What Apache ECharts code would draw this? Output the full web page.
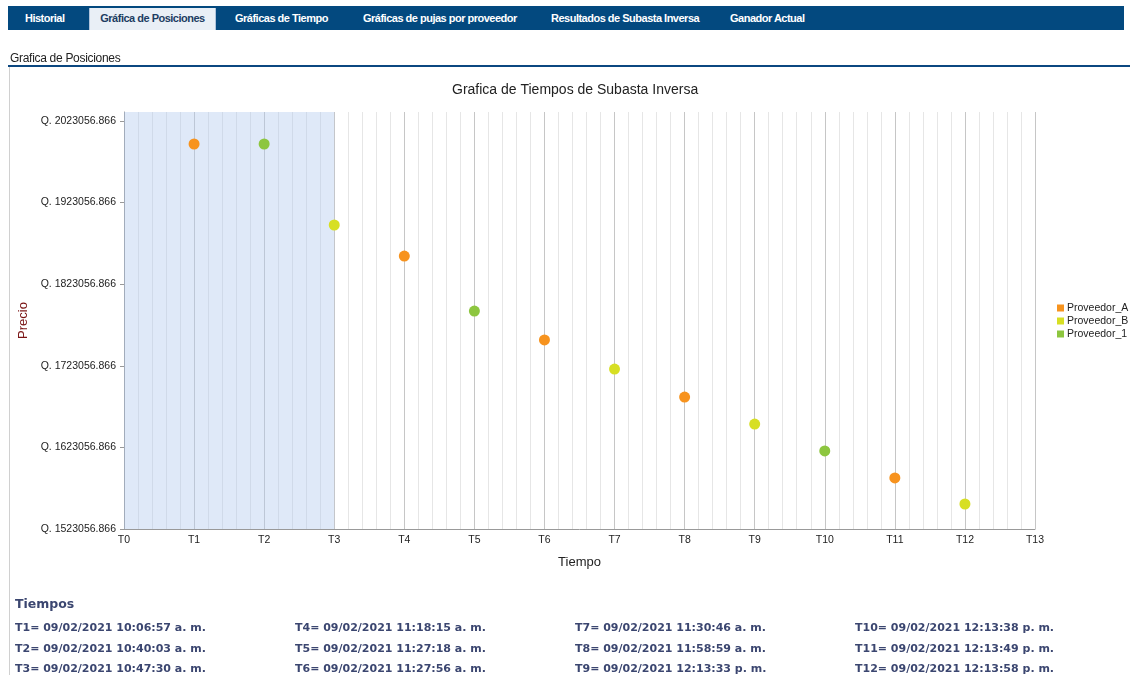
<!DOCTYPE html>
<html>
<head>
<meta charset="utf-8">
<title>Grafica de Posiciones</title>
<style type="text/css">
  body { margin:0; width:1130px; height:675px; background:#fff; position:relative; overflow:hidden; font-family:"Liberation Sans", Arial, sans-serif; }
  #tabs { position:absolute; left:8px; top:6px; width:1116px; height:24px; background:#03497f; }
  #tabs span { position:absolute; top:0; height:24px; line-height:24px; color:#fff; font-size:11px; font-weight:bold; letter-spacing:-0.5px; }
  #tabs span.act { background:#e9eff6; color:#1d3d62; border-left:1px solid #b0c4dc; border-right:1px solid #b0c4dc; top:2px; height:22px; line-height:21px; }
  #subtitulo { position:absolute; left:10px; top:51px; font-size:12px; color:#222; letter-spacing:-0.3px; }
  #linea { position:absolute; left:8px; top:65px; width:1122px; height:2px; background:#0b4780; }
  #borde { position:absolute; left:9px; top:67px; width:1px; height:608px; background:#d0d0d0; }
  #chart { position:absolute; left:0; top:0; width:1130px; height:675px; }
  #tiempos { position:absolute; left:15px; top:596px; font-family:"DejaVu Sans", Verdana, sans-serif; font-weight:bold; color:#3b4670; }
  #tiempos .h { font-size:12.5px; margin-bottom:5px; }
  .col { position:absolute; top:22px; width:300px; font-size:11px; line-height:20.5px; white-space:nowrap; }
</style>
<script src="https://cdn.jsdelivr.net/npm/echarts@6/dist/echarts.min.js"></script>
</head>
<body>
<div id="chart"></div>
<div id="tabs">
  <span style="left:17px">Historial</span>
  <span class="act" style="left:81px;width:125px;text-align:center">Gráfica de Posiciones</span>
  <span style="left:227px">Gráficas de Tiempo</span>
  <span style="left:355px">Gráficas de pujas por proveedor</span>
  <span style="left:543px">Resultados de Subasta Inversa</span>
  <span style="left:722px">Ganador Actual</span>
</div>
<div id="subtitulo">Grafica de Posiciones</div>
<div id="linea"></div>
<div id="borde"></div>
<div id="tiempos">
  <div class="h">Tiempos</div>
  <div class="col" id="c0" style="left:0px"></div>
  <div class="col" id="c1" style="left:280px"></div>
  <div class="col" id="c2" style="left:560px"></div>
  <div class="col" id="c3" style="left:840px"></div>
</div>
<script type="text/javascript">
// posiciones (T) y precios de cada proveedor
var tiemposA = [1, 4, 6, 8, 11];
var preciosA = [1994900, 1857600, 1754700, 1684800, 1585600];
var tiemposB = [3, 7, 9, 12];
var preciosB = [1895600, 1719100, 1651700, 1553700];
var tiempos1 = [2, 5, 10];
var precios1 = [1994900, 1790200, 1618700];

// fechas de cada tiempo
var fechas = [
  "09/02/2021 10:06:57 a. m.", "09/02/2021 10:40:03 a. m.", "09/02/2021 10:47:30 a. m.",
  "09/02/2021 11:18:15 a. m.", "09/02/2021 11:27:18 a. m.", "09/02/2021 11:27:56 a. m.",
  "09/02/2021 11:30:46 a. m.", "09/02/2021 11:58:59 a. m.", "09/02/2021 12:13:33 p. m.",
  "09/02/2021 12:13:38 p. m.", "09/02/2021 12:13:49 p. m.", "09/02/2021 12:13:58 p. m."
];

var precioMin = 1523056.866;
var precioMax = 2034100;
var paso = 100000;

for (var i = 0; i < fechas.length; i++) {
  var c = document.getElementById("c" + Math.floor(i / 3));
  c.innerHTML += "T" + (i + 1) + "= " + fechas[i] + "<br>";
}

function pares(t, p) {
  var r = [];
  for (var i = 0; i < t.length; i++) r.push([t[i], p[i]]);
  return r;
}

var myChart = echarts.init(document.getElementById("chart"));
var option = {
  animation: false,
  textStyle: { fontFamily: "Liberation Sans, Arial, sans-serif" },
  title: {
    text: "Grafica de Tiempos de Subasta Inversa",
    left: 447, top: 78,
    textStyle: { fontSize: 14, fontWeight: "normal", color: "#222" }
  },
  legend: {
    orient: "vertical", left: 1052, top: 297,
    icon: "rect", itemWidth: 7, itemHeight: 7, itemGap: 1,
    textStyle: { fontSize: 10.5, lineHeight: 12, color: "#222", padding: [0, 0, 0, -2] },
    data: ["Proveedor_A", "Proveedor_B", "Proveedor_1"]
  },
  grid: { left: 124, right: 95, top: 112, bottom: 146 },
  xAxis: {
    type: "value", min: 0, max: 13, interval: 1,
    name: "Tiempo", nameLocation: "middle", nameGap: 27,
    nameTextStyle: { fontSize: 13, color: "#222" },
    axisLine: { lineStyle: { color: "#999" } },
    axisTick: { show: false },
    axisLabel: { fontSize: 10.5, color: "#222", margin: 6, formatter: function (v) { return "T" + v; } },
    splitLine: { show: true, lineStyle: { color: "#c6c6c6", width: 1 } },
    minorTick: { show: false, splitNumber: 5 },
    minorSplitLine: { show: true, lineStyle: { color: "#e6e6e6", width: 1 } }
  },
  yAxis: {
    type: "value", min: precioMin, max: precioMax, interval: paso,
    name: "Precio", nameLocation: "middle", nameGap: 88,
    nameTextStyle: { fontSize: 13, color: "#7a1414" },
    axisLine: { show: true, lineStyle: { color: "#999" } },
    axisTick: { show: true, length: 4, lineStyle: { color: "#999" } },
    axisLabel: {
      fontSize: 10.5, color: "#222", margin: 8, showMaxLabel: false,
      formatter: function (v) {
        var k = Math.round((v - precioMin) / paso);
        return "Q. " + (precioMin + k * paso).toFixed(3);
      }
    },
    splitLine: { show: false }
  },
  series: [
    {
      name: "Proveedor_A", type: "scatter", symbolSize: 11,
      itemStyle: { color: "#f7931e", opacity: 1 },
      data: pares(tiemposA, preciosA),
      markArea: {
        silent: true,
        itemStyle: { color: "rgba(175,200,238,0.4)" },
        data: [[{ xAxis: 0 }, { xAxis: 3 }]]
      }
    },
    {
      name: "Proveedor_B", type: "scatter", symbolSize: 11,
      itemStyle: { color: "#d7df23", opacity: 1 },
      data: pares(tiemposB, preciosB)
    },
    {
      name: "Proveedor_1", type: "scatter", symbolSize: 11,
      itemStyle: { color: "#8dc63f", opacity: 1 },
      data: pares(tiempos1, precios1)
    }
  ]
};
myChart.setOption(option);
</script>
</body>
</html>
